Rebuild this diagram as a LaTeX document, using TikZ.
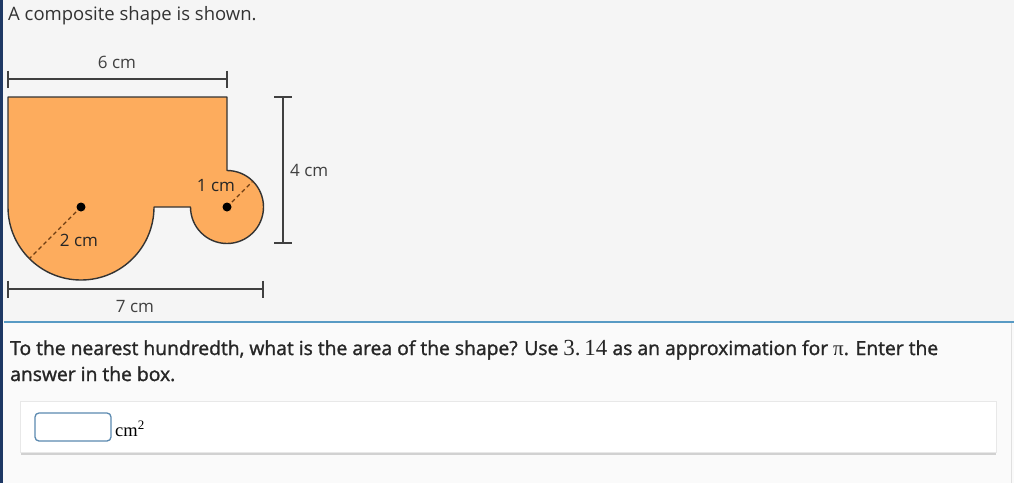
\documentclass[tikz,border=0pt]{standalone}
\usepackage{fontspec}
\setmainfont{Open Sans}
\newfontfamily\seriffont{Liberation Serif}
\newfontfamily\semiboldfont{Open Sans}[FakeBold=1.4]
\usetikzlibrary{positioning}
\colorlet{background}{black!4}
\colorlet{background2}{black!2}
\colorlet{penColor}{black!75}
\definecolor{shapeFill}{RGB}{253,172,93}
\definecolor{radiusColor}{RGB}{110,62,20}
\definecolor{ruleBlue}{RGB}{88,154,196}
\definecolor{navy}{RGB}{30,56,100}
\definecolor{boxBlue}{RGB}{92,138,176}
\tikzset{
  dimline/.style={penColor, line width=1.4pt},
  dimlabel/.style={penColor, font=\fontsize{17}{18}\selectfont, inner sep=1pt},
  radius line/.style={radiusColor, line width=1.3pt, dash pattern=on 4pt off 3pt},
  centre dot/.style={fill=black},
  question/.style={anchor=base west, black!85, inner sep=0, font=\semiboldfont\fontsize{19.3}{22}\selectfont},
}
\begin{document}
\begin{tikzpicture}[x=1pt,y=1pt]
				\useasboundingbox (0,0) rectangle (1014,-483);
				% page background
				\fill[background] (0,0) rectangle (1014,-322);
				\fill[background2] (0,-322) rectangle (1014,-483);
				\fill[navy] (0,0) rectangle (2.5,-483);
				\draw[black!12, line width=1pt] (1011,-322) -- (1011,-483);
				\draw[ruleBlue, line width=2.5pt] (4,-322) -- (1014,-322);
				\node [anchor=base west,black!80,font=\fontsize{18.5}{22}\selectfont,inner sep=0] (title) at (8,-20) {A composite shape is shown.};
				% the composite shape
				\coordinate (bigC) at (81,-207);
				\coordinate (smallC) at (227,-207);
				\draw[fill=shapeFill, draw=black!80, line width=1.4pt, line join=round]
				    (8,-97) -- (227,-97) -- (227,-170.5)
				    arc[start angle=90, end angle=-180, radius=36.5] -- (154,-207)
				    arc[start angle=0, end angle=-180, radius=73] -- cycle;
				\draw[radius line] (bigC) -- ++(225:73) coordinate (bigR);
				\draw[radius line] (smallC) -- ++(45:36.5) coordinate (smallR);
				\fill[centre dot] (bigC) circle [radius=4.5];
				\fill[centre dot] (smallC) circle [radius=4.5];
				\node [dimlabel, text=black!85] (r2) at (79,-240) {2 cm};
				\node [dimlabel, text=black!85] (r1) at (216,-186) {1 cm};
				% dimensions
				\coordinate (topL) at (8,-79);
				\coordinate (topR) at (227,-79);
				\draw[dimline] (topL) -- (topR);
				\draw[dimline] ([yshift=8.5]topL) -- ([yshift=-8.5]topL);
				\draw[dimline] ([yshift=8.5]topR) -- ([yshift=-8.5]topR);
				\node [dimlabel] (six) at (117,-62) {6 cm};
				\coordinate (rightT) at (283,-97);
				\coordinate (rightB) at (283,-243);
				\draw[dimline] (rightT) -- (rightB);
				\draw[dimline] ([xshift=-9]rightT) -- ([xshift=9]rightT);
				\draw[dimline] ([xshift=-9]rightB) -- ([xshift=9]rightB);
				\node [dimlabel, anchor=west] (four) at (289,-170) {4 cm};
				\coordinate (botL) at (8,-289);
				\coordinate (botR) at (263,-289);
				\draw[dimline] (botL) -- (botR);
				\draw[dimline] ([yshift=8.5]botL) -- ([yshift=-8.5]botL);
				\draw[dimline] ([yshift=8.5]botR) -- ([yshift=-8.5]botR);
				\node [dimlabel] (seven) at (135,-307) {7 cm};
				% question
				\node [question] (q1) at (10,-355)
				  {To the nearest hundredth, what is the area of the shape? Use {\seriffont\fontsize{23}{23}\selectfont 3.\,14} as an approximation for {\seriffont\fontsize{21}{21}\selectfont π}. Enter the};
				\node [question] (q2) at (10,-381) {answer in the box.};
				% answer panel
				\fill[black!18] (21,-450) rectangle (996,-455);
				\draw[black!9, fill=white] (20,-401) rectangle (996,-452);
				\draw[boxBlue, line width=1.3pt, fill=white, rounded corners=4pt] (35,-413) rectangle (111,-441);
				\node [anchor=base west, inner sep=0, font=\seriffont\fontsize{18.5}{20}\selectfont] (unit) at (115,-436) {cm\textsuperscript{2}};
\end{tikzpicture}
\end{document}
